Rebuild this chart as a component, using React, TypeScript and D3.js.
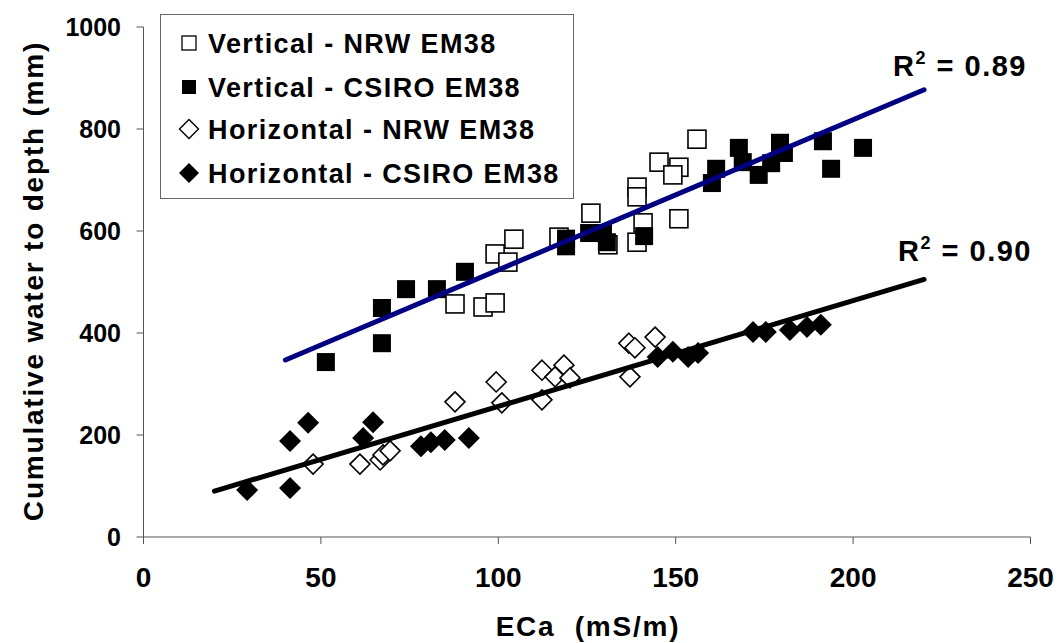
import React from "react";
import * as d3 from "d3";

// ---- data (ECa mS/m, cumulative water mm) ----
const verticalNRW: [number, number][] = [
  [87.8, 457], [95.7, 451], [99.1, 459], [99.1, 555], [102.7, 539], [104.4, 584],
  [117.1, 588], [126.1, 635], [130.9, 573], [139.1, 686], [139.1, 667], [140.8, 616],
  [139.1, 578], [145.3, 735], [150.9, 725], [149.2, 710], [156, 780], [150.9, 624],
];
const verticalCSIRO: [number, number][] = [
  [51.4, 343], [67.2, 380], [67.2, 449], [74.0, 486], [82.7, 486], [90.6, 520],
  [119.1, 570], [119.1, 585], [125.6, 596], [129.5, 596], [130.6, 578], [141.1, 590],
  [160.2, 694], [161.4, 722], [167.8, 763], [168.9, 735], [173.4, 710], [176.9, 733],
  [179.4, 773], [180.5, 753], [191.5, 776], [193.8, 722], [202.8, 763],
];
const horizontalNRW: [number, number][] = [
  [47.8, 143], [61.0, 143], [66.7, 151], [67.5, 161], [69.5, 169], [87.8, 265],
  [99.4, 304], [101.0, 263], [112.3, 327], [112.3, 269], [116.0, 314], [118.5, 337],
  [120.2, 312], [137.1, 314], [136.8, 380], [138.5, 371], [144.2, 392],
];
const horizontalCSIRO: [number, number][] = [
  [29.2, 92], [41.3, 96], [41.3, 188], [46.4, 224], [61.9, 194], [64.7, 225],
  [78.2, 178], [81.0, 186], [84.9, 190], [91.7, 194], [144.9, 353], [149.2, 363],
  [153.5, 353], [156.3, 361], [171.8, 402], [175.4, 402], [182.2, 406], [187, 412],
  [190.9, 416],
];
const trendVertical: [number, number][] = [[40, 347], [220, 877]];
const trendHorizontal: [number, number][] = [[20, 90], [220, 505]];
const xTicks = [0, 50, 100, 150, 200, 250];
const yTicks = [0, 200, 400, 600, 800, 1000];
const legendLabels = [
  "Vertical - NRW EM38",
  "Vertical - CSIRO EM38",
  "Horizontal - NRW EM38",
  "Horizontal - CSIRO EM38",
];
const r2Labels = ["0.89", "0.90"];

const FONT = "'Liberation Sans', Arial, Helvetica, sans-serif";

export default function App() {
  const x = d3.scaleLinear().domain([0, 250]).range([143.5, 1030.5]);
  const y = d3.scaleLinear().domain([0, 1000]).range([537, 27]);
  const line = d3.line<[number, number]>().x((d) => x(d[0])).y((d) => y(d[1]));

  const sq = 18;
  const dg = 11;
  const diamondPath = (cx: number, cy: number, r: number) =>
    `M${cx},${cy - r}L${cx + r},${cy}L${cx},${cy + r}L${cx - r},${cy}Z`;

  const legendRows = [43, 87, 129, 173];

  return (
    <svg
      width={1057}
      height={643}
      style={{ position: "absolute", left: 0, top: 0, background: "#fff" }}
      fontFamily={FONT}
      fontWeight="bold"
    >
      <rect x={0} y={0} width={1057} height={643} fill="#fff" />
      {/* axes */}
      <line x1={x(0)} x2={x(0)} y1={y(0)} y2={y(1000)} stroke="#555" strokeWidth={1} />
      <line x1={x(0)} x2={x(250)} y1={y(0)} y2={y(0)} stroke="#555" strokeWidth={1} />
      {yTicks.map((t) => (
        <g key={"y" + t}>
          <line x1={x(0) - 7} x2={x(0)} y1={y(t)} y2={y(t)} stroke="#555" />
          <text x={121} y={y(t)} dy="0.36em" textAnchor="end" fontSize={25} fill="#000">
            {t}
          </text>
        </g>
      ))}
      {xTicks.map((t) => (
        <g key={"x" + t}>
          <line x1={x(t)} x2={x(t)} y1={y(0)} y2={y(0) + 7} stroke="#555" />
          <text x={x(t)} y={587} textAnchor="middle" fontSize={28} fill="#000">
            {t}
          </text>
        </g>
      ))}
      {/* axis titles */}
      <text x={588} y={636} textAnchor="middle" fontSize={28} letterSpacing={1.8} fill="#000">
        ECa{"\u00a0\u00a0"}(mS/m)
      </text>
      <text
        transform={`translate(43,281) rotate(-90)`}
        textAnchor="middle"
        fontSize={28}
        letterSpacing={1.8}
        fill="#000"
      >
        Cumulative water to depth (mm)
      </text>

      {/* points */}
      {verticalNRW.map((d, i) => (
        <rect
          key={"vn" + i}
          x={x(d[0]) - sq / 2}
          y={y(d[1]) - sq / 2}
          width={sq}
          height={sq}
          fill="#fff"
          stroke="#000"
          strokeWidth={1.6}
        />
      ))}
      {verticalCSIRO.map((d, i) => (
        <rect
          key={"vc" + i}
          x={x(d[0]) - sq / 2}
          y={y(d[1]) - sq / 2}
          width={sq}
          height={sq}
          fill="#000"
        />
      ))}
      {horizontalNRW.map((d, i) => (
        <path
          key={"hn" + i}
          d={diamondPath(x(d[0]), y(d[1]), dg - 1)}
          fill="#fff"
          stroke="#000"
          strokeWidth={1.6}
        />
      ))}
      {horizontalCSIRO.map((d, i) => (
        <path key={"hc" + i} d={diamondPath(x(d[0]), y(d[1]), dg)} fill="#000" />
      ))}

      {/* trend lines */}
      <path d={line(trendVertical) || ""} fill="none" stroke="#000080" strokeWidth={5} strokeLinecap="round" />
      <path d={line(trendHorizontal) || ""} fill="none" stroke="#000" strokeWidth={5} strokeLinecap="round" />

      {/* R2 labels */}
      <text x={893} y={76} fontSize={29} letterSpacing={1.5} fill="#000">
        R<tspan fontSize={18} dy={-12}>2</tspan>
        <tspan dy={12}>{" = " + r2Labels[0]}</tspan>
      </text>
      <text x={898} y={261} fontSize={29} letterSpacing={1.5} fill="#000">
        R<tspan fontSize={18} dy={-12}>2</tspan>
        <tspan dy={12}>{" = " + r2Labels[1]}</tspan>
      </text>

      {/* legend */}
      <rect x={160.5} y={14.5} width={413} height={184} fill="#fff" stroke="#666" strokeWidth={1} />
      {legendLabels.map((lab, i) => {
        const cy = legendRows[i];
        const cx = 189;
        let marker;
        if (i === 0)
          marker = <rect x={cx - 7} y={cy - 7} width={14} height={14} fill="#fff" stroke="#000" strokeWidth={1.3} />;
        else if (i === 1) marker = <rect x={cx - 7} y={cy - 7} width={14} height={14} fill="#000" />;
        else if (i === 2)
          marker = <path d={diamondPath(cx, cy, 9.5)} fill="#fff" stroke="#000" strokeWidth={1.4} />;
        else marker = <path d={diamondPath(cx, cy, 10)} fill="#000" />;
        return (
          <g key={"lg" + i}>
            {marker}
            <text x={208} y={cy} dy="0.36em" fontSize={27} letterSpacing={1.4} fill="#000">
              {lab}
            </text>
          </g>
        );
      })}
    </svg>
  );
}
